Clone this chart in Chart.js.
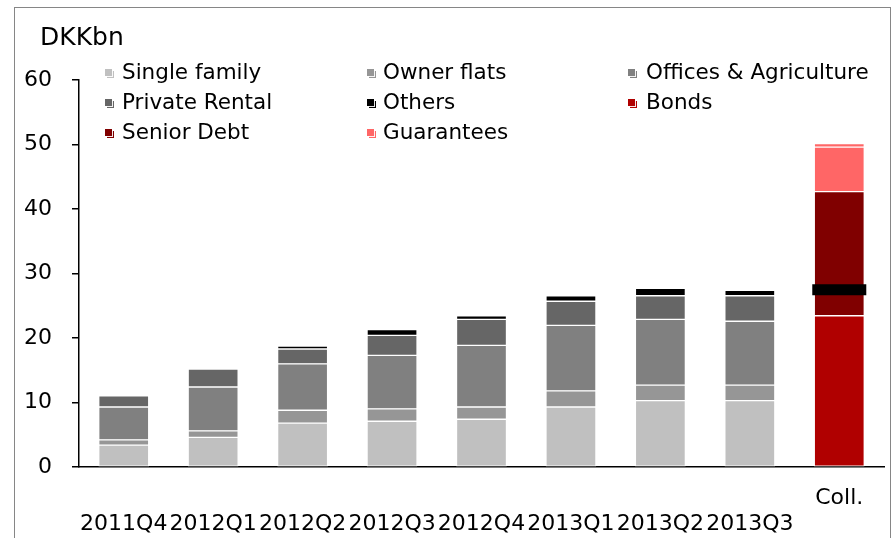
<!DOCTYPE html>
<html>
<head>
<meta charset="utf-8">
<script src="https://cdn.jsdelivr.net/npm/chart.js@4.4.0/dist/chart.umd.min.js"></script>
<style>
html,body{margin:0;padding:0;background:#fff;}
#wrap{position:relative;width:895px;height:538px;overflow:hidden;font-family:"DejaVu Sans",Verdana,sans-serif;color:#000;}
#frame{position:absolute;left:14px;top:7px;width:877px;height:600px;border:1.5px solid #868686;box-sizing:border-box;}
#c{position:absolute;left:0;top:0;}
#unit{position:absolute;left:40px;top:22px;font-size:25px;line-height:30px;white-space:nowrap;}
#legend{position:absolute;left:0;top:0;width:895px;height:150px;pointer-events:none;}
.lt{position:absolute;font-size:21.5px;line-height:26px;white-space:nowrap;}
.mk{position:absolute;width:7px;height:7px;}
</style>
</head>
<body>
<div id="wrap">
  <div id="frame"></div>
  <canvas id="c" width="895" height="538"></canvas>
  <div id="unit">DKKbn</div>
  <div id="legend"></div>
</div>
<script>
// ---- data ----
const quarters = ['2011Q4','2012Q1','2012Q2','2012Q3','2012Q4','2013Q1','2013Q2','2013Q3'];
const collLabel = 'Coll.';
const unitLabel = 'DKKbn';
const yTickValues = [0, 10, 20, 30, 40, 50, 60];

const singleFamily  = [3.4, 4.6, 6.8, 7.1, 7.4, 9.3, 10.3, 10.3, null];
const ownerFlats    = [0.8, 1.0, 2.0, 1.9, 1.9, 2.5, 2.4, 2.4, null];
const officesAgri   = [5.1, 6.8, 7.2, 8.3, 9.55, 10.15, 10.2, 9.9, null];
const privateRental = [1.75, 2.8, 2.3, 3.1, 4.05, 3.75, 3.65, 3.95, null];
const others        = [null, null, 0.45, 0.9, 0.55, 0.85, 1.15, 0.85, null];
const bonds         = [null, null, null, null, null, null, null, null, 23.45];
const seniorDebt    = [null, null, null, null, null, null, null, null, 19.25];
const guarantees    = [null, null, null, null, null, null, null, null, 6.9];
const guaranteesTop = [null, null, null, null, null, null, null, null, 0.55];
const exposureMark  = [null, null, null, null, null, null, null, null, 27.5];

// ---- build chart ----
const labels = quarters.map(q => ['', q]).concat([[collLabel, '']]);
const FONT = '"DejaVu Sans", Verdana, sans-serif';

function barSet(label, data, color, inLegend = true) {
  return {
    type: 'bar', label, data,
    backgroundColor: color,
    borderColor: '#ffffff',
    borderWidth: 1,
    borderSkipped: false,
    barThickness: 50,
    stack: 'main',
    inLegend
  };
}

const datasets = [
  barSet('Single family', singleFamily, '#C0C0C0'),
  barSet('Owner flats', ownerFlats, '#969696'),
  barSet('Offices & Agriculture', officesAgri, '#808080'),
  barSet('Private Rental', privateRental, '#666666'),
  barSet('Others', others, '#000000'),
  barSet('Bonds', bonds, '#B00000'),
  barSet('Senior Debt', seniorDebt, '#800000'),
  barSet('Guarantees', guarantees, '#FF6666'),
  barSet('Guarantees (other)', guaranteesTop, '#FF6666', false),
  {
    type: 'line', label: 'Exposure', data: exposureMark,
    showLine: false, stack: 'marker', order: -1,
    pointStyle: 'line', pointRadius: 27, pointHoverRadius: 27,
    pointBorderWidth: 11, pointHoverBorderWidth: 11,
    borderColor: '#000000', backgroundColor: '#000000',
    inLegend: false
  }
];

const chart = new Chart(document.getElementById('c'), {
  type: 'bar',
  data: { labels, datasets },
  options: {
    responsive: false,
    animation: false,
    devicePixelRatio: 1,
    layout: { autoPadding: false, padding: { top: 80, right: 11, bottom: 0, left: 0 } },
    plugins: { legend: { display: false }, tooltip: { enabled: false }, title: { display: false } },
    scales: {
      x: {
        stacked: true,
        offset: true,
        grid: { display: false, drawTicks: false },
        border: { display: true, color: '#000000', width: 1.5 },
        ticks: {
          color: '#000000',
          font: { family: FONT, size: 22, lineHeight: 1.18 },
          padding: 18,
          maxRotation: 0, minRotation: 0, autoSkip: false
        },
        afterFit(scale) { scale.height = 71; scale.paddingLeft = 0; scale.paddingRight = 0; }
      },
      y: {
        stacked: true,
        min: yTickValues[0],
        max: yTickValues[yTickValues.length - 1],
        afterBuildTicks(scale) { scale.ticks = yTickValues.map(v => ({ value: v })); },
        grid: { drawOnChartArea: false, drawTicks: true, tickLength: 7, color: '#000000', lineWidth: 1.5 },
        border: { display: true, color: '#000000', width: 1.5 },
        ticks: {
          color: '#000000',
          font: { family: FONT, size: 22 },
          padding: 20
        },
        afterFit(scale) { scale.width = 79; }
      }
    }
  }
});

// ---- HTML legend in Excel-like 3-column grid ----
const legendEl = document.getElementById('legend');
const markX = [105, 367, 628];
const textX = [122, 383, 646];
const rowY = [72, 102, 132];
const items = chart.data.datasets.filter(d => d.inLegend);
items.forEach((d, i) => {
  const col = i % 3, row = Math.floor(i / 3);
  const mk = document.createElement('div');
  mk.className = 'mk';
  mk.style.left = markX[col] + 'px';
  mk.style.top = (rowY[row] - 3) + 'px';
  mk.style.background = d.backgroundColor;
  mk.style.boxShadow = '1px 1px 0 0 rgba(255,255,255,0.9), 2px 2px 0 0 ' + d.backgroundColor;
  legendEl.appendChild(mk);
  const t = document.createElement('div');
  t.className = 'lt';
  t.style.left = textX[col] + 'px';
  t.style.top = (rowY[row] - 13) + 'px';
  t.textContent = d.label;
  legendEl.appendChild(t);
});
document.getElementById('unit').textContent = unitLabel;
</script>
</body>
</html>
